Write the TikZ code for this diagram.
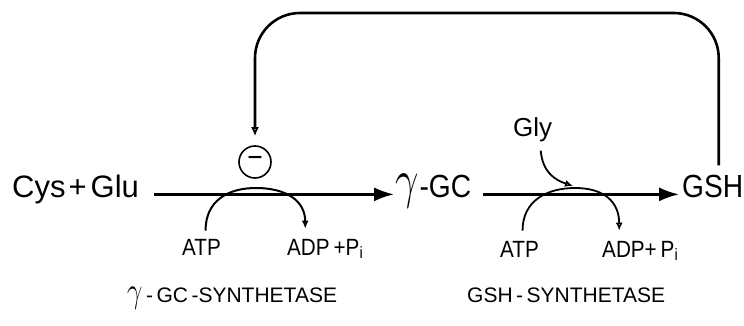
\RequirePackage{fix-cm}
\documentclass[tikz,border=0pt]{standalone}
\usepackage{graphicx}
\usepackage{fontspec}
\setmainfont[FakeStretch=0.88]{Liberation Sans}
\newfontfamily\widefont{Liberation Sans}
\usetikzlibrary{arrows.meta}
\newcommand{\lgam}{\scalebox{1.3}[1.7]{$\gamma$}}
\begin{document}
\begin{tikzpicture}[x=1pt,y=-1pt,
  big/.style={font=\fontsize{32}{36}\selectfont, inner sep=0pt, anchor=base west},
  small/.style={font=\fontsize{23.5}{26}\selectfont, inner sep=0pt, anchor=base west},
  lab/.style={font=\widefont\fontsize{21}{26}\selectfont, inner sep=0pt, anchor=base west},
  mainarrow/.style={line width=2.3pt, -{Latex[length=20pt,width=14pt]}},
  cofilled/.style={line width=2pt, -{Latex[length=8pt,width=7pt]}},
  coopen/.style={line width=1.8pt, -{Latex[open,length=8pt,width=7pt]}},
  feedback/.style={line width=2.6pt, rounded corners=45pt, -{Latex[open,length=9pt,width=8pt]}}
]
\useasboundingbox (0,0) rectangle (744,326);
% main species
\node[big, font=\widefont\fontsize{31}{36}\selectfont] (cys) at (12,197) {Cys\hspace{3pt}+\hspace{4pt}Glu};
\node[big] (gc)  at (395,197) {\lgam\hspace{1pt}-GC};
\node[big] (gsh) at (682,197) {GSH};
\node[small, font=\widefont\fontsize{26}{30}\selectfont] (gly) at (513,137) {Gly};
% cofactors
\node[small] (atp1) at (182,255) {ATP};
\node[small] (adp1) at (287,255) {ADP\,+P\textsubscript{i}};
\node[small] (atp2) at (500,257) {ATP};
\node[small] (adp2) at (602,257) {ADP+\,P\textsubscript{i}};
% enzyme labels
\node[lab] (enz1) at (127,302) {\lgam\,-\,GC\,-SYNTHETASE};
\node[lab] (enz2) at (467,302) {GSH\,-\,SYNTHETASE};
% inhibition mark
\node[circle, draw, line width=1.6pt, minimum size=32pt, inner sep=0pt] (inh) at (255,162) {\fontsize{30}{30}\selectfont −};
% reaction points
\coordinate (r1) at (256,188);
\coordinate (r2) at (575,188);
\coordinate (fbtop) at (0,13);
% main arrows
\draw[mainarrow] ([xshift=15pt]cys.mid east) -- ([xshift=-1pt]gc.mid west);
\draw[mainarrow] ([xshift=12pt]gc.mid east) -- ([xshift=-3pt]gsh.mid west);
% cofactor arcs
\draw[cofilled] ([xshift=4pt,yshift=8pt]atp1.north) .. controls +(0,-30) and +(-28,0) .. (r1)
   .. controls +(30,0) and +(0,-28) .. ([xshift=-20pt,yshift=10pt]adp1.north);
\draw[coopen] ([xshift=3pt,yshift=10pt]atp2.north) .. controls +(0,-30) and +(-28,0) .. (r2)
   .. controls +(30,0) and +(0,-28) .. ([xshift=-21pt,yshift=10pt]adp2.north);
\draw[coopen] ([xshift=8pt,yshift=-8pt]gly.south) .. controls +(2,22) and +(-18,-6) .. ([xshift=-2pt,yshift=2pt]r2);
% feedback inhibition
\coordinate (fbr) at ([xshift=6pt,yshift=9pt]gsh.north);
\draw[feedback, shorten >=9pt] (fbr) -- (fbr |- fbtop) -- (inh |- fbtop) -- (inh.north);
\end{tikzpicture}
\end{document}
